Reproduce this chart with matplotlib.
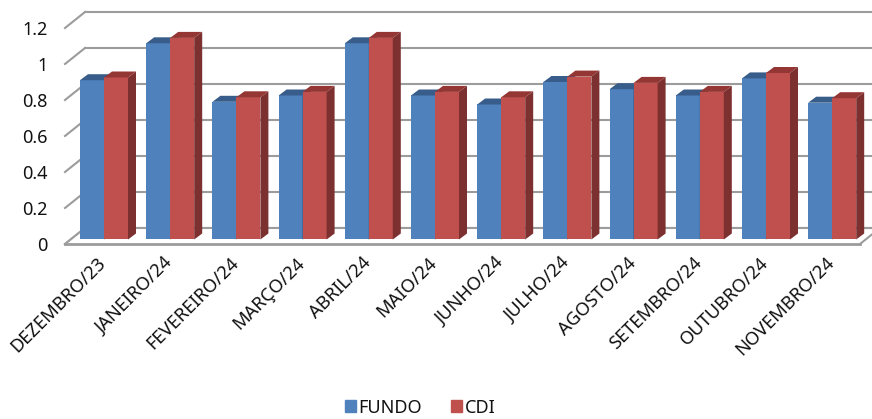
import matplotlib
matplotlib.use("Agg")
import matplotlib.pyplot as plt
from matplotlib.patches import Polygon, Patch
from matplotlib.transforms import Affine2D, ScaledTranslation

categories = ["DEZEMBRO/23", "JANEIRO/24", "FEVEREIRO/24", "MARÇO/24", "ABRIL/24", "MAIO/24",
              "JUNHO/24", "JULHO/24", "AGOSTO/24", "SETEMBRO/24", "OUTUBRO/24", "NOVEMBRO/24"]
fundo = [0.885, 1.09, 0.765, 0.80, 1.09, 0.80, 0.75, 0.875, 0.835, 0.80, 0.895, 0.76]
cdi = [0.90, 1.12, 0.79, 0.82, 1.12, 0.82, 0.79, 0.905, 0.87, 0.82, 0.925, 0.785]
yticks = [0, 0.2, 0.4, 0.6, 0.8, 1, 1.2]
series_names = ["FUNDO", "CDI"]

plt.rcParams['font.family'] = ['Noto Sans', 'DejaVu Sans']
W, H = 872, 419
fig = plt.figure(figsize=(W / 100, H / 100), dpi=100)
L, R, B, T = 65, 860, 244, 28
ax = fig.add_axes([L / W, 1 - B / H, (R - L) / W, (B - T) / H])
PXX = 66.2
PXY = 180.0
ax.set_ylim(0, 1.2)
ax.set_xlim((L - 104) / PXX, (R - 104) / PXX)
for s in ax.spines.values():
    s.set_visible(False)

GRID = "#9c9c9c"
back = ax.transData + Affine2D().translate(20, 16)
front = ax.transData + Affine2D().translate(0, 4.5)
x0, x1 = ax.get_xlim()
for v in yticks:
    ax.plot([x0, x1 + 0.3], [v, v], transform=back, color=GRID, lw=1.5, clip_on=False, zorder=1)
    ax.plot([x0, x0 + 20 / PXX], [v, v + 16 / PXY], color=GRID, lw=1.5, clip_on=False, zorder=1)
ax.fill([x0, x1, x1 + 20 / PXX, x0 + 20 / PXX], [0, 0, 16 / PXY, 16 / PXY], color="white", zorder=1.5)
ax.plot([x0 + 20 / PXX, x1 + 20 / PXX], [16 / PXY, 16 / PXY], color=GRID, lw=1.5, clip_on=False, zorder=1.6)
ax.plot([x0, x0 + 20 / PXX], [0, 16 / PXY], color=GRID, lw=1.5, clip_on=False, zorder=1.6)
ax.plot([x0, x1], [0, 0], color=GRID, lw=2, clip_on=False, zorder=1.6)
ax.plot([x1, x1 + 20 / PXX], [0, 16 / PXY], color=GRID, lw=1.5, clip_on=False, zorder=1.6)

bw = 24 / PXX
ddx, ddy = 8 / PXX, 6 / PXY
styles = [("#4F81BD", "#385D8A", "#2F4E74"), ("#C0504D", "#943634", "#7D3030")]
for k, (vals, st) in enumerate(zip([fundo, cdi], styles)):
    off = (k - 1) * bw
    for i, v in enumerate(vals):
        xl = i + off
        z = 3 + i + k * 0.1
        ax.bar(xl, v, width=bw, align='edge', color=st[0], transform=front, zorder=z, clip_on=False)
        ax.add_patch(Polygon([(xl, v), (xl + ddx, v + ddy), (xl + bw + ddx, v + ddy), (xl + bw, v)],
                             closed=True, fc=st[1], ec='none', transform=front, zorder=z, clip_on=False))
        ax.add_patch(Polygon([(xl + bw, 0), (xl + bw + ddx, ddy), (xl + bw + ddx, v + ddy), (xl + bw, v)],
                             closed=True, fc=st[2], ec='none', transform=front, zorder=z, clip_on=False))

ax.set_xticks(range(len(categories)))
ax.set_xticklabels(categories, rotation=45, ha='right', va='top', rotation_mode='anchor',
                   fontsize=13.2, color="#111111")
ax.set_yticks(yticks)
ax.set_yticklabels([f"{v:g}" for v in yticks], fontsize=13, color="#111111")
ax.tick_params(axis='both', length=0)
ax.tick_params(axis='x', pad=7)
ax.tick_params(axis='y', pad=12.5)
shift = ScaledTranslation(-7 / 100, 0, fig.dpi_scale_trans)
for lab in ax.get_xticklabels():
    lab.set_transform(lab.get_transform() + shift)

handles = [Patch(color=styles[0][0], label=series_names[0]), Patch(color=styles[1][0], label=series_names[1])]
fig.legend(handles=handles, loc='lower left', bbox_to_anchor=(330.5 / W, -12 / H), ncol=2, frameon=False,
           fontsize=13, handlelength=0.6, handleheight=0.6, handletextpad=0.15, columnspacing=1.6,
           labelcolor="#111111", borderpad=0.3)
fig.savefig("out.png", dpi=100)
